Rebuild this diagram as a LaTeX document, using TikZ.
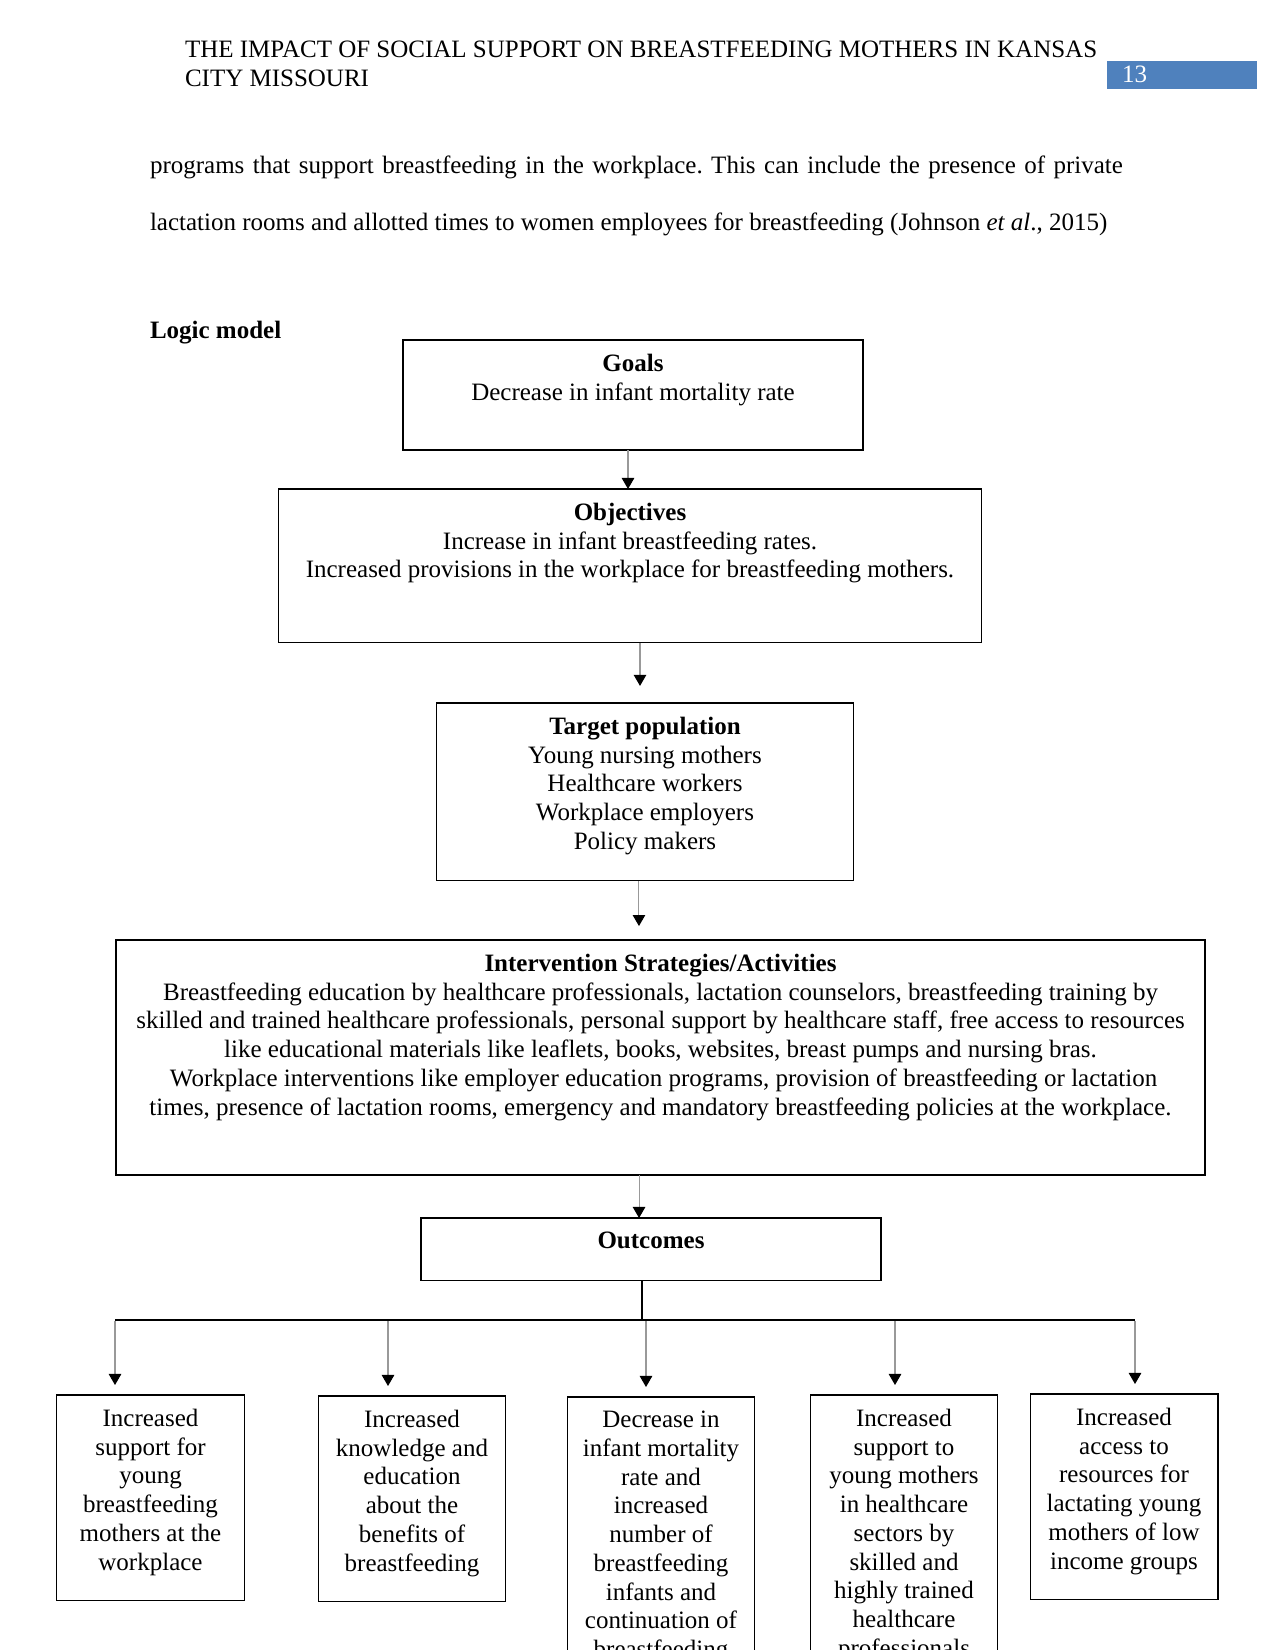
\documentclass[tikz,border=0pt]{standalone}
\usepackage{fontspec}
\setmainfont{Liberation Serif}
\usetikzlibrary{arrows.meta,positioning,calc}
\definecolor{hdrblue}{RGB}{79,129,189}
\frenchspacing

\begin{document}
\begin{tikzpicture}[x=0.48pt,y=-0.48pt,
	every node/.style={inner sep=0pt,outer sep=0pt,font=\fontsize{12}{13.8}\selectfont},
	box/.style={draw,line width=0.5pt,anchor=north},
	txt/.style={anchor=north,align=center,yshift=-6.7pt},
	arr/.style={draw=black!40,line width=0.5pt,-{Triangle[length=5.3pt,width=6pt,black]}}]
	\useasboundingbox (0,0) rectangle (1275,1650);
	\clip (0,0) rectangle (1275,1650);
	% page header
	\node[anchor=base west] (head1) at (185,58) {THE IMPACT OF SOCIAL SUPPORT ON BREASTFEEDING MOTHERS IN KANSAS};
	\node[anchor=base west] (head2) at (185,87) {CITY MISSOURI};
	\fill[hdrblue] (1107,61) rectangle (1257,89);
	\node[anchor=base west,text=white] (pagenum) at (1122,83) {13};
	% body text
	\node[anchor=base west] (para1) at (150,174) {\hbox to 467pt{programs that support breastfeeding in the workplace. This can include the presence of private}};
	\node[anchor=base west] (para2) at (150,231) {lactation rooms and allotted times to women employees for breastfeeding (Johnson \textit{et al}., 2015)};
	\node[anchor=base west,font=\fontsize{12}{13.8}\selectfont\bfseries] (logic) at (150,339) {Logic model};
	% logic model boxes
	\node[box,minimum width=220.8pt,minimum height=52.8pt] (goals) at (633,340) {};
	\node[txt] (goalstxt) at (goals.north) {\textbf{Goals}\\Decrease in infant mortality rate};
	\node[box,minimum width=337pt,minimum height=73.9pt] (objectives) at (630,489) {};
	\node[txt] (objtxt) at (objectives.north) {\textbf{Objectives}\\Increase in infant breastfeeding rates.\\Increased provisions in the workplace for breastfeeding mothers.};
	\node[box,minimum width=200.6pt,minimum height=85.4pt] (target) at (645,703) {};
	\node[txt] (targettxt) at (target.north) {\textbf{Target population}\\Young nursing mothers\\Healthcare workers\\Workplace employers\\Policy makers};
	\node[box,minimum width=522.7pt,minimum height=112.8pt] (strategies) at (660.5,940) {};
	\node[txt] (strattxt) at (strategies.north) {\textbf{Intervention Strategies/Activities}\\
		Breastfeeding education by healthcare professionals, lactation counselors, breastfeeding training by\\
		skilled and trained healthcare professionals, personal support by healthcare staff, free access to resources\\
		like educational materials like leaflets, books, websites, breast pumps and nursing bras.\\
		\ Workplace interventions like employer education programs, provision of breastfeeding or lactation\\
		times, presence of lactation rooms, emergency and mandatory breastfeeding policies at the workplace.};
	\node[box,minimum width=220.8pt,minimum height=30.2pt] (outcomes) at (651,1218) {};
	\node[txt] (outtxt) at (outcomes.north) {\textbf{Outcomes}};
	% outcome boxes
	\node[box,minimum width=90.2pt,minimum height=98.4pt] (out1) at (150.5,1395) {};
	\node[txt] (out1txt) at (out1.north) {Increased\\support for\\young\\breastfeeding\\mothers at the\\workplace};
	\node[box,minimum width=90.2pt,minimum height=98.4pt] (out2) at (412,1396) {};
	\node[txt] (out2txt) at (out2.north) {Increased\\knowledge and\\education\\about the\\benefits of\\breastfeeding};
	\node[box,minimum width=90.2pt,minimum height=150pt] (out3) at (661,1397) {};
	\node[txt] (out3txt) at (out3.north) {Decrease in\\infant mortality\\rate and\\increased\\number of\\breastfeeding\\infants and\\continuation of\\breastfeeding};
	\node[box,minimum width=90.2pt,minimum height=150pt] (out4) at (904,1395) {};
	\node[txt] (out4txt) at (out4.north) {Increased\\support to\\young mothers\\in healthcare\\sectors by\\skilled and\\highly trained\\healthcare\\professionals};
	\node[box,minimum width=90.2pt,minimum height=98.4pt] (out5) at (1124,1394) {};
	\node[txt] (out5txt) at (out5.north) {Increased\\access to\\resources for\\lactating young\\mothers of low\\income groups};
	% connectors
	\draw[arr] ([xshift=-2.4pt]goals.south) -- ([xshift=-2.4pt]goals.south |- objectives.north);
	\draw[arr,shorten >=8.2pt] ([xshift=4.8pt]objectives.south) -- ([xshift=4.8pt]objectives.south |- target.north);
	\draw[arr,shorten >=6.7pt] ([xshift=-2.9pt]target.south) -- ([xshift=-2.9pt]target.south |- strategies.north);
	\draw[arr] ([xshift=-10.3pt]strategies.south) -- ([xshift=-10.3pt]strategies.south |- outcomes.north);
	\coordinate (brL) at (115,1320);
	\coordinate (brR) at (1135,1320);
	\draw[line width=0.6pt] ([xshift=-4.3pt]outcomes.south) -- ([xshift=-4.3pt]outcomes.south |- brL);
	\draw[line width=0.6pt] (brL) -- (brR);
	\coordinate (b1) at (115,1321);
	\coordinate (b2) at (388,1321);
	\coordinate (b3) at (646,1321);
	\coordinate (b4) at (895,1321);
	\coordinate (b5) at (1135,1321);
	\draw[arr,shorten >=4.8pt] (b1) -- (b1 |- out1.north);
	\draw[arr,shorten >=4.8pt] (b2) -- (b2 |- out2.north);
	\draw[arr,shorten >=4.8pt] (b3) -- (b3 |- out3.north);
	\draw[arr,shorten >=4.8pt] (b4) -- (b4 |- out4.north);
	\draw[arr,shorten >=4.8pt] (b5) -- (b5 |- out5.north);
\end{tikzpicture}
\end{document}
